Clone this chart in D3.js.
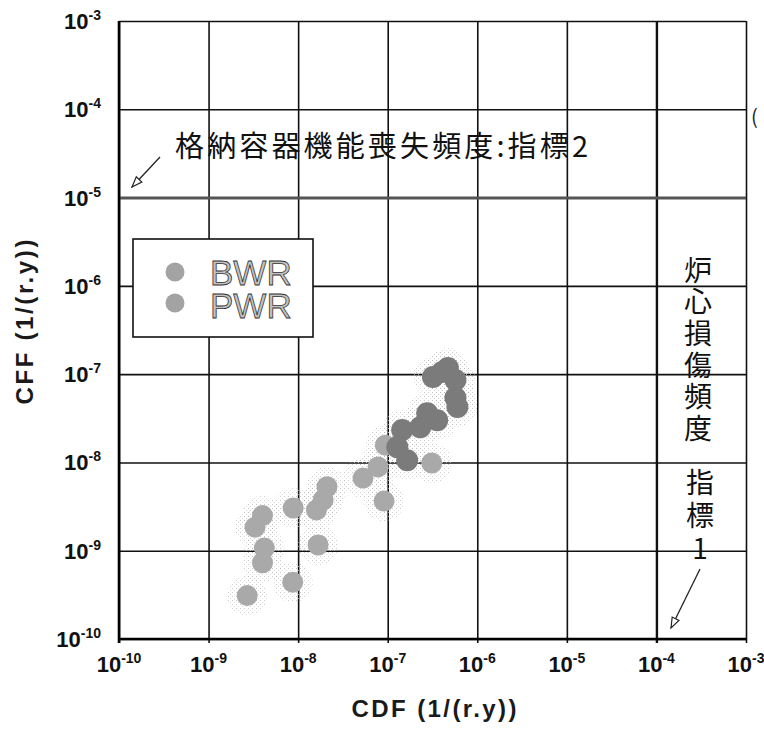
<!DOCTYPE html>
<html>
<head>
<meta charset="utf-8">
<script src="https://cdn.jsdelivr.net/npm/d3@7"></script>
<style>
  body { margin: 0; background: #fff; }
  svg { display: block; }
</style>
</head>
<body>
<div id="chart"></div>
<script>
// tick exponents, both axes run 1e-10 .. 1e-3
var tickExps = [-10, -9, -8, -7, -6, -5, -4, -3];

// BWR (darker cluster)
var bwrCDF = [4.06e-7, 5.7e-7, 5.7e-7, 6.0e-7, 2.76e-7, 3.57e-7, 2.31e-7, 1.45e-7, 1.28e-7, 1.65e-7, 3.2e-7, 4.7e-7];
var bwrCFF = [1.06e-7, 8.6e-8, 5.4e-8, 4.24e-8, 3.6e-8, 3.0e-8, 2.5e-8, 2.33e-8, 1.49e-8, 1.06e-8, 9.3e-8, 1.17e-7];

// PWR (lighter points)
var pwrCDF = [2.7e-9, 8.7e-9, 1.67e-8, 4.0e-9, 3.3e-9, 4.2e-9, 4.0e-9, 8.8e-9, 1.6e-8, 2.1e-8, 1.9e-8, 5.3e-8, 7.8e-8, 9.1e-8, 3.1e-7, 9.4e-8];
var pwrCFF = [3.1e-10, 4.4e-10, 1.16e-9, 2.5e-9, 1.85e-9, 1.07e-9, 7.3e-10, 3.05e-9, 2.9e-9, 5.3e-9, 3.75e-9, 6.65e-9, 8.9e-9, 3.65e-9, 9.85e-9, 1.57e-8];

var seriesNames = ["BWR", "PWR"];
var seriesColors = ["#7b7b7b", "#a9a9a9"];

var cffLimit = 1e-5;   // 指標2
var cdfLimit = 1e-4;   // 指標1

var W = 764, H = 735;
var pLeft = 119, pRight = 746, pTop = 21, pBottom = 639;

var x = d3.scaleLog().domain([1e-10, 1e-3]).range([pLeft, pRight]);
var y = d3.scaleLog().domain([1e-10, 1e-3]).range([pBottom, pTop]);
var ticks = tickExps.map(function(e){ return Math.pow(10, e); });

var svg = d3.select("#chart").append("svg")
    .attr("width", W)
    .attr("height", H)
    .style("font-family", "'Liberation Sans', Arial, sans-serif");

var defs = svg.append("defs");
var pat = defs.append("pattern")
    .attr("id", "stipple")
    .attr("width", 4).attr("height", 4)
    .attr("patternUnits", "userSpaceOnUse");
pat.append("rect").attr("x", 0).attr("y", 0).attr("width", 1).attr("height", 1).attr("fill", "#b5b5b5");
pat.append("rect").attr("x", 2).attr("y", 2).attr("width", 1).attr("height", 1).attr("fill", "#cfcfcf");

// grid
var gx = svg.append("g")
    .attr("transform", "translate(0," + (pBottom + 4) + ")")
    .call(d3.axisBottom(x).tickValues(ticks).tickFormat("").tickSize(-(pBottom - pTop + 4)));
gx.select(".domain").remove();
gx.selectAll(".tick line")
    .attr("stroke", "#111")
    .attr("stroke-width", function(d){ return d === cdfLimit ? 2.4 : 1.6; });

var gy = svg.append("g")
    .attr("transform", "translate(" + pLeft + ",0)")
    .call(d3.axisLeft(y).tickValues(ticks).tickFormat("").tickSize(-(pRight - pLeft)));
gy.select(".domain").remove();
gy.selectAll(".tick line")
    .attr("stroke", function(d){ return d === cffLimit ? "#555" : "#111"; })
    .attr("stroke-width", function(d){ return d === cffLimit ? 3 : 1.6; });

// frame
svg.append("line").attr("x1", pLeft).attr("x2", pLeft).attr("y1", pTop).attr("y2", pBottom + 4)
    .attr("stroke", "#000").attr("stroke-width", 2.6);
svg.append("line").attr("x1", pLeft - 1).attr("x2", pRight).attr("y1", pBottom).attr("y2", pBottom)
    .attr("stroke", "#000").attr("stroke-width", 2.6);

// tick labels
svg.append("g").selectAll("text")
    .data(tickExps)
    .enter()
    .append("text")
    .attr("x", function(d){ return x(Math.pow(10, d)); })
    .attr("y", pBottom + 33)
    .attr("text-anchor", "middle")
    .attr("font-size", 22)
    .attr("font-weight", "bold")
    .attr("fill", "#111")
    .each(function(d){
        var t = d3.select(this);
        t.append("tspan").text("10");
        t.append("tspan").attr("dy", -9).attr("font-size", 14).text(d);
    });

svg.append("g").selectAll("text")
    .data(tickExps)
    .enter()
    .append("text")
    .attr("x", 101)
    .attr("y", function(d){ return y(Math.pow(10, d)) + 8; })
    .attr("text-anchor", "end")
    .attr("font-size", 22)
    .attr("font-weight", "bold")
    .attr("fill", "#111")
    .each(function(d){
        var t = d3.select(this);
        t.append("tspan").text("10");
        t.append("tspan").attr("dy", -9).attr("font-size", 14).text(d);
    });

// axis titles
svg.append("text")
    .attr("x", 434).attr("y", 717)
    .attr("text-anchor", "middle")
    .attr("font-size", 24).attr("font-weight", "bold")
    .attr("textLength", 165).attr("lengthAdjust", "spacing")
    .attr("fill", "#1a1a1a")
    .text("CDF (1/(r.y))");

svg.append("text")
    .attr("transform", "translate(33,322) rotate(-90)")
    .attr("text-anchor", "middle")
    .attr("font-size", 24).attr("font-weight", "bold")
    .attr("textLength", 165).attr("lengthAdjust", "spacing")
    .attr("fill", "#1a1a1a")
    .text("CFF (1/(r.y))");

// points
var pwr = pwrCDF.map(function(v, i){ return {cdf: v, cff: pwrCFF[i]}; });
var bwr = bwrCDF.map(function(v, i){ return {cdf: v, cff: bwrCFF[i]}; });
var all = pwr.concat(bwr);

var dots = svg.append("g");
dots.selectAll("circle.haze")
    .data(all)
    .enter()
    .append("circle")
    .attr("class", "haze")
    .attr("cx", function(d){ return x(d.cdf); })
    .attr("cy", function(d){ return y(d.cff); })
    .attr("r", 20)
    .attr("fill", "url(#stipple)")
    .attr("opacity", 0.7);

dots.selectAll("circle.pwr")
    .data(pwr)
    .enter()
    .append("circle")
    .attr("class", "pwr")
    .attr("cx", function(d){ return x(d.cdf); })
    .attr("cy", function(d){ return y(d.cff); })
    .attr("r", 10.5)
    .attr("fill", seriesColors[1]);

dots.selectAll("circle.bwr")
    .data(bwr)
    .enter()
    .append("circle")
    .attr("class", "bwr")
    .attr("cx", function(d){ return x(d.cdf); })
    .attr("cy", function(d){ return y(d.cff); })
    .attr("r", 11)
    .attr("fill", seriesColors[0]);

// legend
var lg = svg.append("g");
lg.append("rect")
    .attr("x", 133).attr("y", 239).attr("width", 180).attr("height", 98)
    .attr("fill", "#fff").attr("stroke", "#111").attr("stroke-width", 1.6);
lg.selectAll("circle")
    .data(seriesNames)
    .enter()
    .append("circle")
    .attr("cx", 175)
    .attr("cy", function(d, i){ return 272 + i * 31; })
    .attr("r", 9.5)
    .attr("fill", "#a3a3a3");
var lgText = lg.append("text")
    .attr("font-size", 35)
    .attr("fill", "#c2c2c2")
    .attr("stroke", "#333")
    .attr("stroke-width", 0.8);
lgText.selectAll("tspan")
    .data(seriesNames)
    .enter()
    .append("tspan")
    .attr("x", 210)
    .attr("y", function(d, i){ return 285 + i * 33; })
    .text(function(d){ return d; });

// annotations
var cjk = "'Noto Sans CJK JP', 'Noto Sans CJK SC', sans-serif";

svg.append("text")
    .attr("x", 175).attr("y", 157)
    .attr("font-family", cjk)
    .attr("font-size", 29)
    .attr("textLength", 413).attr("lengthAdjust", "spacing")
    .attr("fill", "#111")
    .text("格納容器機能喪失頻度:指標2");

function arrow(x1, y1, x2, y2){
    svg.append("line")
        .attr("x1", x1).attr("y1", y1).attr("x2", x2).attr("y2", y2)
        .attr("stroke", "#222").attr("stroke-width", 1.3);
    var a = Math.atan2(y2 - y1, x2 - x1), len = 11, w = 0.35;
    var p1 = [x2 - len * Math.cos(a - w), y2 - len * Math.sin(a - w)];
    var p2 = [x2 - len * Math.cos(a + w), y2 - len * Math.sin(a + w)];
    svg.append("path")
        .attr("d", "M" + x2 + "," + y2 + "L" + p1 + "L" + p2 + "Z")
        .attr("fill", "#fff").attr("stroke", "#222").attr("stroke-width", 1.2);
}
arrow(160, 157, 132, 187);
arrow(700, 569, 671, 628);

// vertical labels for 指標1
svg.append("text")
    .attr("x", 698).attr("y", 256)
    .attr("font-family", cjk)
    .attr("font-size", 28)
    .attr("letter-spacing", 3.7)
    .style("writing-mode", "vertical-rl")
    .style("text-orientation", "upright")
    .attr("fill", "#111")
    .text("炉心損傷頻度");

svg.append("text")
    .attr("x", 700).attr("y", 468)
    .attr("font-family", cjk)
    .attr("font-size", 28)
    .attr("letter-spacing", 5)
    .style("writing-mode", "vertical-rl")
    .style("text-orientation", "upright")
    .attr("fill", "#111")
    .text("指標1");

svg.append("text")
    .attr("x", 751).attr("y", 124)
    .attr("font-family", cjk)
    .attr("font-size", 20)
    .attr("fill", "#222")
    .text("(");
</script>
</body>
</html>
